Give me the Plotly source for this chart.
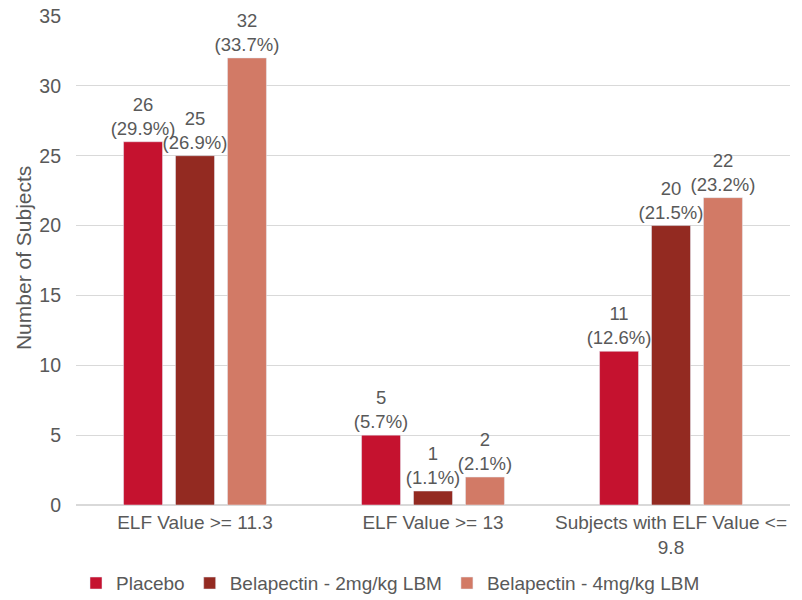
import plotly.graph_objects as go

categories = ["ELF Value >= 11.3", "ELF Value >= 13", "Subjects with ELF Value <=<br>9.8"]
series_names = ["Placebo", "Belapectin - 2mg/kg LBM", "Belapectin - 4mg/kg LBM"]
placebo = [26, 5, 11]
bel2 = [25, 1, 20]
bel4 = [32, 2, 22]
placebo_pct = ["29.9%", "5.7%", "12.6%"]
bel2_pct = ["26.9%", "1.1%", "21.5%"]
bel4_pct = ["33.7%", "2.1%", "23.2%"]
colors = ["#C5122F", "#932A21", "#D27A66"]

fig = go.Figure()
for name, vals, pcts, col in zip(series_names, [placebo, bel2, bel4],
                                  [placebo_pct, bel2_pct, bel4_pct], colors):
    fig.add_trace(go.Bar(
        x=categories, y=vals, name=name, marker_color=col,
        text=[f"{v}<br>({p})" for v, p in zip(vals, pcts)],
        textposition="outside", constraintext="none", cliponaxis=False,
        textfont=dict(size=18.5, color="#595959"),
    ))

fig.add_annotation(text="Number of Subjects", textangle=-90, xref="paper", yref="paper",
                   x=0, y=0.505, xanchor="center", yanchor="middle", xshift=-53, showarrow=False,
                   font=dict(size=21, color="#595959"))

fig.update_layout(
    width=794, height=592,
    margin=dict(l=68, r=12, t=8, b=95, autoexpand=False),
    paper_bgcolor="white", plot_bgcolor="white",
    font=dict(family="Liberation Sans, Arial, sans-serif", color="#595959", size=19),
    barmode="group", bargap=0.345, bargroupgap=0.25,
    showlegend=True,
    legend=dict(orientation="h", x=0.0, xanchor="left", y=-0.121, yanchor="top",
                font=dict(size=19, color="#595959"), itemwidth=30, tracegroupgap=0),
    yaxis=dict(range=[0, 35], dtick=5, showgrid=True, gridcolor="#D9D9D9",
               zeroline=True, zerolinecolor="#D9D9D9", ticks="", ticklabelstandoff=14,
               ticklabeloverflow="allow", automargin=False,
               tickfont=dict(size=19.5, color="#595959")),
    xaxis=dict(showline=True, linecolor="#D9D9D9", tickfont=dict(size=19, color="#595959"),
               ticks="", automargin=False),
)

fig.write_html("out.html")
